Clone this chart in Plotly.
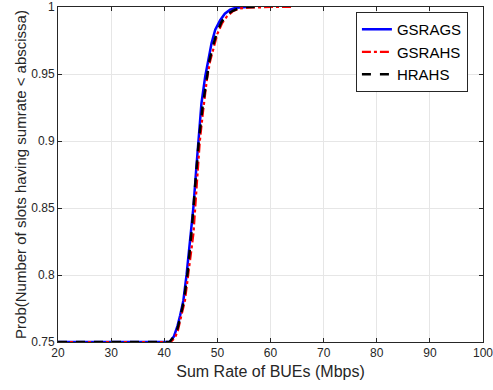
import plotly.graph_objects as go

# Data
gsrags_x = [20, 41.0, 41.8, 42.5, 43.0, 43.6, 44.2, 44.8, 45.5, 46.0, 46.4, 47.0, 47.7, 48.3, 48.9, 49.6, 50.5, 51.4, 52.4, 53.5, 54.5, 55.5]
gsrags_y = [0.75, 0.75, 0.754, 0.762, 0.770, 0.781, 0.800, 0.824, 0.851, 0.878, 0.901, 0.928, 0.948, 0.962, 0.973, 0.983, 0.990, 0.995, 0.998, 0.9995, 1.0, 1.0]

gsrahs_x = [20, 41.2, 42.0, 42.6, 43.0, 43.9, 44.6, 45.5, 46.1, 46.7, 47.3, 48.0, 48.6, 49.2, 50.0, 50.9, 51.8, 53.0, 54.3, 56, 58, 60, 62, 64]
gsrahs_y = [0.75, 0.75, 0.753, 0.759, 0.766, 0.781, 0.803, 0.831, 0.866, 0.900, 0.922, 0.945, 0.959, 0.969, 0.980, 0.988, 0.993, 0.997, 0.999, 0.9995, 1, 1, 1, 1]

hrahs_x = [20, 41.0, 41.8, 42.5, 43.0, 43.7, 44.4, 45.2, 45.8, 46.5, 47.2, 47.9, 48.5, 49.1, 49.9, 50.8, 51.7, 52.8, 54.0, 55.5, 57]
hrahs_y = [0.75, 0.75, 0.754, 0.760, 0.768, 0.781, 0.802, 0.835, 0.866, 0.900, 0.925, 0.946, 0.960, 0.970, 0.981, 0.989, 0.994, 0.997, 0.999, 1, 1]

x_ticks = [20, 30, 40, 50, 60, 70, 80, 90, 100]
y_ticks = [0.75, 0.8, 0.85, 0.9, 0.95, 1]
y_tick_labels = ["0.75", "0.8", "0.85", "0.9", "0.95", "1"]

FONT = "Liberation Sans, Arial, sans-serif"
TXT = "#262626"

fig = go.Figure()
fig.add_trace(go.Scatter(x=gsrags_x, y=gsrags_y, mode="lines", name="GSRAGS",
                         line=dict(color="#0000ff", width=2.5)))
fig.add_trace(go.Scatter(x=gsrahs_x, y=gsrahs_y, mode="lines", name="GSRAHS",
                         line=dict(color="#ff0000", width=2.2, dash="dashdot")))
fig.add_trace(go.Scatter(x=hrahs_x, y=hrahs_y, mode="lines", name="HRAHS",
                         line=dict(color="#000000", width=2.5, dash="dash")))

fig.update_layout(
    width=493, height=390,
    margin=dict(l=58, r=10, t=7, b=48, autoexpand=False),
    paper_bgcolor="white", plot_bgcolor="white",
    font=dict(family=FONT, size=12, color=TXT),
    showlegend=True,
    legend=dict(x=0.701, y=0.985, xanchor="left", yanchor="top",
                bgcolor="white", bordercolor="#262626", borderwidth=1,
                font=dict(family=FONT, size=15, color="black"),
                tracegroupgap=0, itemwidth=30),
)
fig.update_xaxes(
    range=[20, 100], tickvals=x_ticks, ticktext=[str(v) for v in x_ticks],
    automargin=False, ticklabeloverflow="allow",
    showgrid=True, gridcolor="#e6e6e6", gridwidth=1,
    showline=True, linecolor="#262626", linewidth=1, mirror="ticks",
    ticks="inside", ticklen=4, tickcolor="#262626",
    zeroline=False,
    title=dict(text="Sum Rate of BUEs (Mbps)", font=dict(size=16, color=TXT), standoff=6),
)
fig.update_yaxes(
    range=[0.75, 1], tickvals=y_ticks, ticktext=y_tick_labels,
    automargin=False, ticklabeloverflow="allow",
    showgrid=True, gridcolor="#e6e6e6", gridwidth=1,
    showline=True, linecolor="#262626", linewidth=1, mirror="ticks",
    ticks="inside", ticklen=4, tickcolor="#262626",
    zeroline=False,
    title=dict(text="Prob(Number of slots having sumrate < abscissa)", font=dict(size=15, color=TXT), standoff=0),
)

fig.write_html("out.html", config={"displayModeBar": False},
               post_script="document.body.style.margin='0';document.body.style.overflow='hidden';")
